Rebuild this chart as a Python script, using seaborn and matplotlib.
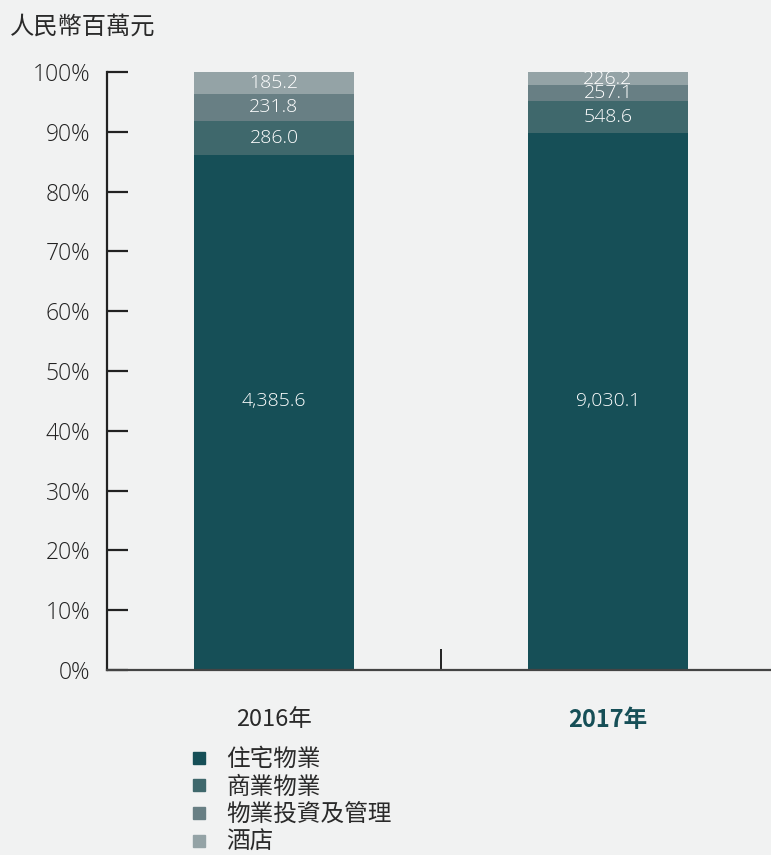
import numpy as np
import pandas as pd
import matplotlib
matplotlib.use("Agg")
import matplotlib.pyplot as plt
from matplotlib.lines import Line2D
import seaborn as sns

years = ["2016年", "2017年"]
segments = ["住宅物業", "商業物業", "物業投資及管理", "酒店"]
residential = [4385.6, 9030.1]
commercial = [286.0, 548.6]
investment = [231.8, 257.1]
hotel = [185.2, 226.2]
value_labels = {
    "住宅物業": ["4,385.6", "9,030.1"],
    "商業物業": ["286.0", "548.6"],
    "物業投資及管理": ["231.8", "257.1"],
    "酒店": ["185.2", "226.2"],
}
colors = ["#164f57", "#3f686c", "#687f84", "#94a3a6"]
ytick_labels = ["0%", "10%", "20%", "30%", "40%", "50%", "60%", "70%", "80%", "90%", "100%"]

sns.set_theme(style="white")
plt.rcParams["font.family"] = ["Open Sans", "Noto Sans CJK TC", "DejaVu Sans"]
cjk = ["Noto Sans CJK TC", "DejaVu Sans"]
num_font = ["Open Sans", "DejaVu Sans"]

df = pd.DataFrame({"year": years, "住宅物業": residential, "商業物業": commercial,
                   "物業投資及管理": investment, "酒店": hotel})
totals = df[segments].sum(axis=1)
pct = df[segments].div(totals, axis=0) * 100
cum = pct.cumsum(axis=1)

bg = "#f1f2f2"
fig = plt.figure(figsize=(7.71, 8.55), dpi=100, facecolor=bg)
ax = fig.add_axes([107 / 771, 185 / 855, 668 / 771, 598 / 855])
ax.set_facecolor(bg)
ax.patch.set_alpha(0)

# draw stacked layers from top down
for seg, col in reversed(list(zip(segments, colors))):
    sns.barplot(x=df["year"], y=cum[seg], color=col, width=0.48, ax=ax,
                saturation=1, edgecolor="none", linewidth=0)

# value labels
for i in range(len(years)):
    bottom = 0.0
    for j, seg in enumerate(segments):
        h = pct[seg].iloc[i]
        yc = bottom + h / 2
        if j == 0:
            yc = 45
        ax.text(i, yc, value_labels[seg][i], ha="center", va="center",
                color="white", fontsize=14, family=num_font, fontweight="light")
        bottom += h

ax.set_xlim(-0.5, 1.5)
ax.set_ylim(0, 100)
ax.set_yticks(np.arange(0, 101, 10))
ax.set_yticklabels(ytick_labels, fontsize=16.5, color="#222222", family=num_font,
                   fontweight="light")
ax.tick_params(axis="y", direction="in", length=15, width=1.6, color="#222222", pad=12, left=True)
ax.set_xticks([0, 1])
ax.set_xticklabels(years)
ax.tick_params(axis="x", length=0, pad=27)
for lbl in ax.get_xticklabels():
    lbl.set_family(cjk)
    lbl.set_fontsize(17)
    lbl.set_color("#2a2a2a")
xl = ax.get_xticklabels()
xl[0].set_fontweight("light")
xl[1].set_fontweight("bold")
xl[1].set_color("#164f57")
ax.set_xticks([0.5], minor=True)
ax.tick_params(axis="x", which="minor", direction="in", length=15, width=1.4, color="#222222", bottom=True)
ax.set_xlabel("")
ax.set_ylabel("")

for s in ["top", "right"]:
    ax.spines[s].set_visible(False)
ax.spines["left"].set_color("#222222")
ax.spines["left"].set_linewidth(1.6)
ax.spines["bottom"].set_color("#444444")
ax.spines["bottom"].set_linewidth(1.6)

fig.text(10 / 771, 1 - 27 / 855, "人民幣百萬元", family=cjk, fontsize=17.5,
         color="#2a2a2a", va="center", ha="left", fontweight="light")

handles = [Line2D([0], [0], marker="s", linestyle="none", markersize=9,
                  markerfacecolor=c, markeredgecolor=c) for c in colors]
fig.legend(handles, segments, loc="upper left", bbox_to_anchor=(173 / 771, 1 - 736 / 855),
           frameon=False, prop={"family": cjk, "size": 17, "weight": "light"}, labelspacing=0.2,
           handletextpad=0.55, labelcolor="#2a2a2a", borderpad=0, handlelength=1.2)

fig.savefig("out.png", dpi=100, facecolor=bg)
